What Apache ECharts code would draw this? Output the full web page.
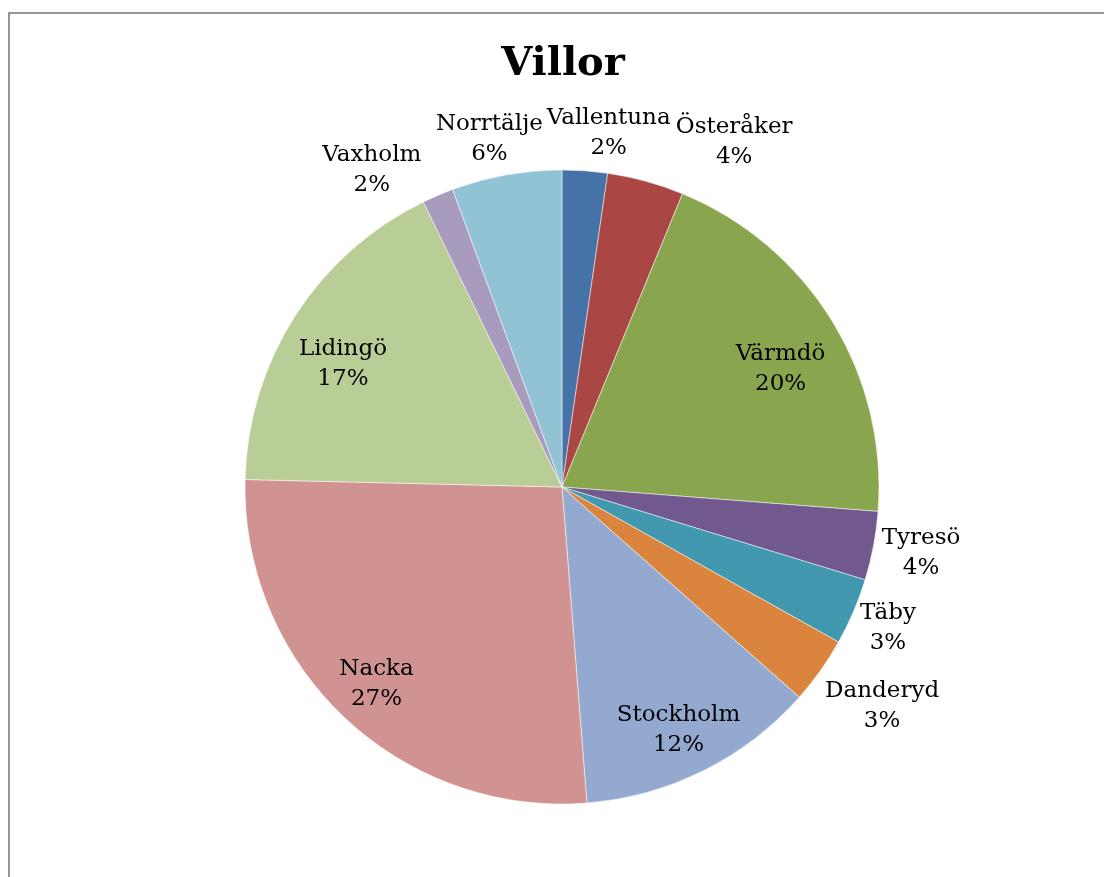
<!DOCTYPE html>
<html>
<head>
<meta charset="utf-8">
<script src="https://cdn.jsdelivr.net/npm/echarts@6/dist/echarts.min.js"></script>
<style>
  html, body { margin: 0; padding: 0; background: #fff; overflow: hidden; }
  #frame { position: absolute; left: 8px; top: 12px; width: 1300px; height: 1000px;
           border: 2px solid #959595; box-sizing: border-box; }
  #chart { position: absolute; left: 0; top: 0; width: 1104px; height: 877px; }
</style>
</head>
<body>
<div id="frame"></div>
<div id="chart"></div>
<script>
// Share of villas per municipality (percent)
const kommuner = ['Vallentuna', 'Österåker', 'Värmdö', 'Tyresö', 'Täby', 'Danderyd',
                  'Stockholm', 'Nacka', 'Lidingö', 'Vaxholm', 'Norrtälje'];
const andelar = [2.3, 3.9, 20.0, 3.5, 3.4, 3.4, 12.2, 26.6, 17.4, 1.6, 5.6];
const farger = ['#4572A7', '#AA4643', '#89A54E', '#71588F', '#4198AF', '#DB843D',
                '#93A9CF', '#D19392', '#B9CD96', '#A99BBD', '#91C3D5'];

// Slices large enough to carry their label inside
const innerLabels = ['Värmdö', 'Stockholm', 'Nacka', 'Lidingö'];
// Extra shifts for individual labels
const labelNudge = { 'Vallentuna': [19, -4], 'Österåker': [72, -6], 'Vaxholm': [-45, 6],
                     'Norrtälje': [-7, -2], 'Danderyd': [12, 16], 'Täby': [5, 3],
                     'Tyresö': [5, 1],
                     'Nacka': [-9, 0], 'Värmdö': [0, 6], 'Lidingö': [-3, 5], 'Stockholm': [2, 2] };

const CX = 562, CY = 487, R = 317;
const total = andelar.reduce((a, b) => a + b, 0);
const midAngles = [];
let acc = 0;
andelar.forEach(v => { midAngles.push((acc + v / 2) / total * 2 * Math.PI); acc += v; });

const chart = echarts.init(document.getElementById('chart'));
chart.setOption({
  backgroundColor: 'transparent',
  animation: false,
  title: {
    text: 'Villor',
    left: CX - 4,
    textAlign: 'center',
    top: 40,
    textStyle: { fontFamily: 'DejaVu Serif', fontWeight: 'bold', fontSize: 40, color: '#000' }
  },
  series: [{
    type: 'pie',
    center: [CX, CY],
    radius: R,
    startAngle: 90,
    clockwise: true,
    avoidLabelOverlap: false,
    itemStyle: { borderColor: '#ffffff', borderWidth: 0.5 },
    label: {
      show: true,
      position: 'outside',
      fontFamily: 'DejaVu Serif',
      fontSize: 23,
      lineHeight: 30,
      color: '#000',
      align: 'center',
      formatter: p => p.name + '\n' + Math.round(p.percent) + '%'
    },
    labelLine: { show: false },
    emphasis: { disabled: true },
    labelLayout: function (params) {
      const i = params.dataIndex;
      const name = kommuner[i];
      const a = midAngles[i];
      const s = Math.sin(a), c = Math.cos(a);
      const w = params.labelRect.width, h = params.labelRect.height;
      let x, y;
      if (innerLabels.indexOf(name) >= 0) {
        x = CX + 0.81 * R * s;
        y = CY - 0.81 * R * c + 11;
      } else {
        x = CX + (R + 4) * s + (w / 2) * s;
        y = CY - (R + 4) * c - (h / 2) * c;
      }
      const n = labelNudge[name];
      if (n) { x += n[0]; y += n[1]; }
      return { x: x, y: y, align: 'center', verticalAlign: 'middle' };
    },
    data: kommuner.map((k, i) => ({ name: k, value: andelar[i], itemStyle: { color: farger[i] } }))
  }]
});
</script>
</body>
</html>
